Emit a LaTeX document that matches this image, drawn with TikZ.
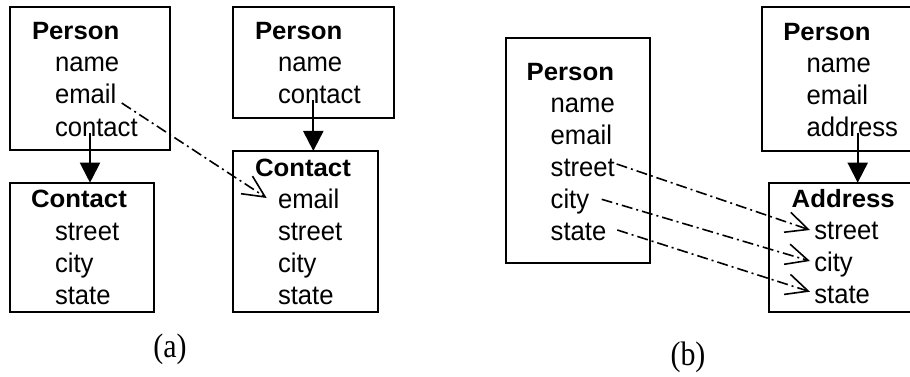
\documentclass[tikz,border=0pt]{standalone}
\usepackage{fontspec}
\usepackage{graphicx}
\setmainfont{Liberation Sans}
\newfontfamily\labfont{Liberation Serif}
\usetikzlibrary{arrows.meta}
\newcommand{\ttl}[1]{\scalebox{1.03}[1]{\fontsize{25}{25}\selectfont\bfseries #1}}
\newcommand{\fld}[1]{\scalebox{0.95}[1]{\fontsize{27}{27}\selectfont #1}}
\newcommand{\lab}[1]{\scalebox{0.88}[1]{\fontsize{34}{34}\selectfont\labfont #1}}
\begin{document}
\begin{tikzpicture}[x=1pt,y=-1pt,
  box/.style={draw,line width=2pt,inner sep=0pt,outer sep=0pt},
  txt/.style={anchor=base west,inner sep=0pt,outer sep=0pt},
  solidarrow/.style={line width=2pt,-{Triangle[length=20pt,width=20pt]}},
  maparrow/.style={line width=1.6pt,dash pattern=on 11pt off 4pt on 2pt off 4pt,
     -{Straight Barb[length=22pt,width=21pt,line width=1.6pt]}},
  caption/.style={inner sep=0pt}]
\clip (0,0) rectangle (910,377);
\fill[white] (0,0) rectangle (910,377);
% ---------- (a) left
\node[box,minimum width=160.5pt,minimum height=143pt] (P1) at (89.75,78.5) {};
\node[txt] (p1t) at (32,40) {\ttl{Person}};
\node[txt] (p1a) at (55,72) {\fld{name}};
\node[txt] (p1b) at (55,104) {\fld{email}};
\node[txt] (p1c) at (55,136) {\fld{contact}};
\node[box,minimum width=144.5pt,minimum height=129pt] (C1) at (81.75,247.2) {};
\node[txt] (c1t) at (31,207.5) {\ttl{Contact}};
\node[txt] (c1a) at (55,240) {\fld{street}};
\node[txt] (c1b) at (55,272) {\fld{city}};
\node[txt] (c1c) at (55,304) {\fld{state}};
% ---------- (a) right
\node[box,minimum width=161pt,minimum height=111.3pt] (P2) at (313.8,62.65) {};
\node[txt] (p2t) at (255,40) {\ttl{Person}};
\node[txt] (p2a) at (278,72) {\fld{name}};
\node[txt] (p2b) at (278,104) {\fld{contact}};
\node[box,minimum width=145pt,minimum height=160.7pt] (C2) at (305.8,231.35) {};
\node[txt] (c2t) at (255,176.5) {\ttl{Contact}};
\node[txt] (c2a) at (278,208.5) {\fld{email}};
\node[txt] (c2b) at (278,240.5) {\fld{street}};
\node[txt] (c2c) at (278,272.5) {\fld{city}};
\node[txt] (c2d) at (278,304.5) {\fld{state}};
% ---------- (b) left
\node[box,minimum width=144.3pt,minimum height=225pt] (P3) at (577.85,150.8) {};
\node[txt] (p3t) at (526.7,80.7) {\ttl{Person}};
\node[txt] (p3a) at (550.7,112.7) {\fld{name}};
\node[txt] (p3b) at (550.7,144.7) {\fld{email}};
\node[txt] (p3c) at (550.7,176.7) {\fld{street}};
\node[txt] (p3d) at (550.7,208.7) {\fld{city}};
\node[txt] (p3e) at (550.7,240.7) {\fld{state}};
% ---------- (b) right
\node[box,minimum width=168.3pt,minimum height=144pt] (P4) at (845.85,78.7) {};
\node[txt] (p4t) at (783.3,40.7) {\ttl{Person}};
\node[txt] (p4a) at (806.7,72.7) {\fld{name}};
\node[txt] (p4b) at (806.7,104.7) {\fld{email}};
\node[txt] (p4c) at (806.7,136.7) {\fld{address}};
\node[box,minimum width=160.7pt,minimum height=129pt] (A4) at (849.65,247.2) {};
\node[txt] (a4t) at (791.7,207.3) {\ttl{Address}};
\node[txt] (a4a) at (814.3,239.3) {\fld{street}};
\node[txt] (a4b) at (814.3,271.3) {\fld{city}};
\node[txt] (a4c) at (814.3,303.3) {\fld{state}};
% ---------- solid arrows
\coordinate (s1) at (90,133);
\coordinate (s2) at (313.3,100);
\coordinate (s3) at (857.7,133);
\draw[solidarrow] (s1) -- (s1 |- C1.north);
\draw[solidarrow] (s2) -- (s2 |- C2.north);
\draw[solidarrow] (s3) -- (s3 |- A4.north);
% ---------- mapping arrows
\draw[maparrow] (121.7,103) -- (266.7,198);
\draw[maparrow] (616.7,164) -- (810,230);
\draw[maparrow] (601.7,199.3) -- (810,261);
\draw[maparrow] (617.3,230) -- (810,291.7);
% ---------- captions
\node[caption] (la) at (170,349) {\lab{(a)}};
\node[caption] (lb) at (688,357) {\lab{(b)}};
\end{tikzpicture}
\end{document}
